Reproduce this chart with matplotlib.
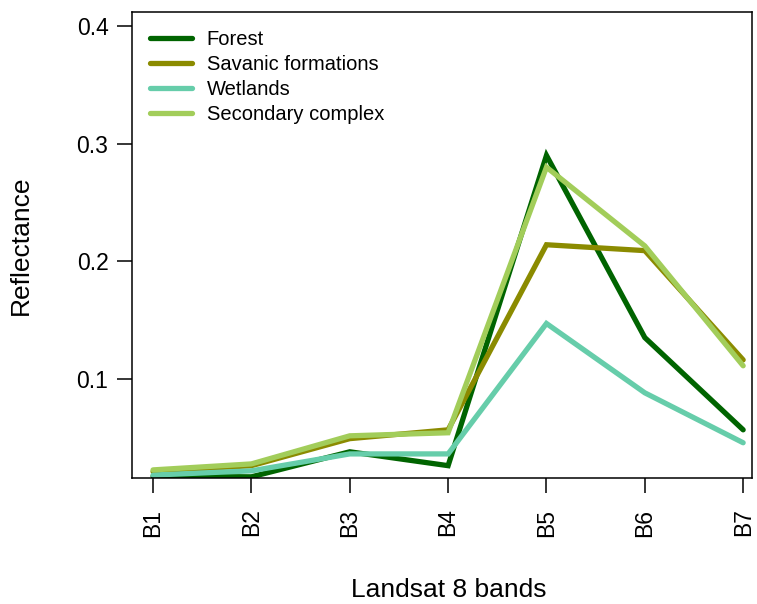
import matplotlib
matplotlib.use("Agg")
import matplotlib.pyplot as plt

# spectral profiles per land cover class
bands = ["B1", "B2", "B3", "B4", "B5", "B6", "B7"]
forest = [0.017, 0.0165, 0.0378, 0.026, 0.290, 0.135, 0.0565]
savanic = [0.021, 0.026, 0.049, 0.0565, 0.214, 0.209, 0.116]
wetlands = [0.018, 0.0216, 0.036, 0.036, 0.147, 0.088, 0.0455]
secondary = [0.0224, 0.0275, 0.0514, 0.054, 0.280, 0.213, 0.111]

series = [
    ("Forest", forest, "#006400"),
    ("Savanic formations", savanic, "#8B8B00"),
    ("Wetlands", wetlands, "#66CDAA"),
    ("Secondary complex", secondary, "#A2CD5A"),
]

plt.rcParams["font.family"] = ["Liberation Sans", "DejaVu Sans"]

fig = plt.figure(figsize=(7.57, 6.04), dpi=100)
ax = fig.add_axes([0.1744, 0.2086, 0.819, 0.7714])

x = list(range(1, len(bands) + 1))
for name, vals, col in series:
    ax.plot(x, vals, color=col, linewidth=3.8, label=name,
            solid_joinstyle="miter", solid_capstyle="round")

ax.set_xlim(0.786, 7.09)
ax.set_ylim(0.0155, 0.412)
ax.set_xticks(x)
ax.set_xticklabels(bands, rotation=90)
ax.set_yticks([0.1, 0.2, 0.3, 0.4])
ax.set_yticklabels(["0.1", "0.2", "0.3", "0.4"])

ax.tick_params(axis="both", direction="out", length=11, width=1.1)
ax.tick_params(axis="y", labelsize=16.5, pad=6)
ax.tick_params(axis="x", labelsize=16.5, pad=11)
for s in ax.spines.values():
    s.set_linewidth(1.1)

# axis titles placed at fixed spots below / left of the box
ax.set_xlabel("Landsat 8 bands", fontsize=19, va="center")
ax.xaxis.set_label_coords(0.511, -0.241)
ax.set_ylabel("Reflectance", fontsize=19, va="center")
ax.yaxis.set_label_coords(-0.179, 0.5)

ax.legend(loc="upper left", frameon=False, fontsize=14.5,
          handlelength=2.1, handletextpad=0.7, labelspacing=0.3,
          borderaxespad=0.5, borderpad=0.4)

fig.savefig("out.png", dpi=100)
